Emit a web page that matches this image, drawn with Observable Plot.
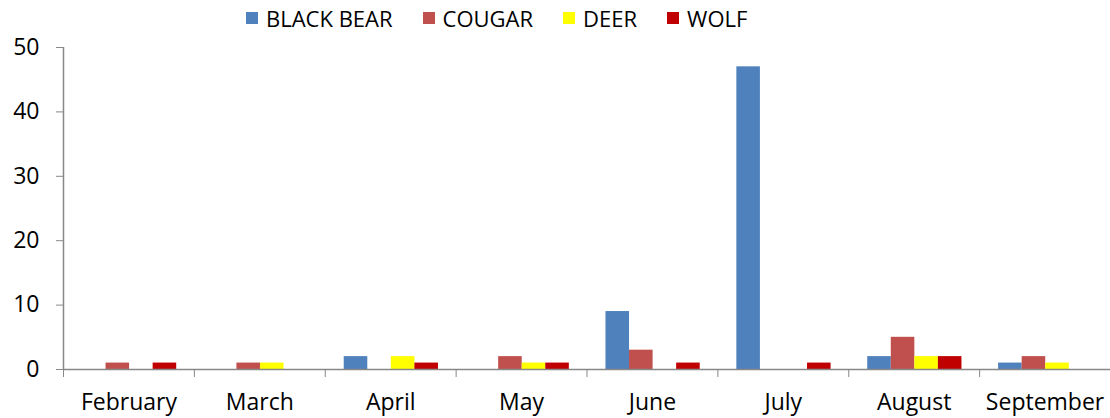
<!DOCTYPE html>
<html>
<head>
<meta charset="utf-8">
<script src="https://cdn.jsdelivr.net/npm/d3@7"></script>
<script src="https://cdn.jsdelivr.net/npm/@observablehq/plot@0.6"></script>
<style>
  html, body { margin: 0; padding: 0; background: #fff; overflow: hidden; }
  #legend { height: 30px; display: flex; align-items: center; padding-left: 246px; padding-top: 6px; box-sizing: border-box;
            font-family: 'Open Sans', sans-serif; font-size: 22px; color: #000; }
  #legend .item { display: flex; align-items: center; margin-right: 30px; }
  #legend .sw { width: 12px; height: 12px; margin-right: 8px; }
</style>
</head>
<body>
<div id="legend"></div>
<div id="chart"></div>
<script>
const months = ["February", "March", "April", "May", "June", "July", "August", "September"];
const species = ["BLACK BEAR", "COUGAR", "DEER", "WOLF"];
const blackBear = [0, 0, 2, 0, 9, 47, 2, 1];
const cougar    = [1, 1, 0, 2, 3, 0, 5, 2];
const deer      = [0, 1, 2, 1, 0, 0, 2, 1];
const wolf      = [1, 0, 1, 1, 1, 1, 2, 0];
const yTicks = [0, 10, 20, 30, 40, 50];
const colors = ["#4F81BD", "#C0504D", "#FFFF00", "#C00000"];

const seriesValues = [blackBear, cougar, deer, wolf];
const rows = [];
months.forEach((m, mi) => {
  species.forEach((s, si) => {
    rows.push({month: m, m: mi, species: s, s: si, value: seriesValues[si][mi]});
  });
});

const barW = 0.18, groupStart = 0.145;

const legend = document.getElementById("legend");
species.forEach((s, i) => {
  const it = document.createElement("div");
  it.className = "item";
  const sw = document.createElement("span");
  sw.className = "sw";
  sw.style.background = colors[i];
  it.appendChild(sw);
  it.appendChild(document.createTextNode(s));
  legend.appendChild(it);
});

const axisGray = "#888888";

const chart = Plot.plot({
  width: 1110,
  height: 388,
  marginTop: 17,
  marginBottom: 49,
  marginLeft: 63,
  marginRight: 0,
  style: {fontFamily: "'Open Sans', sans-serif", fontSize: "23px", color: "#000", background: "#fff", overflow: "visible"},
  x: {domain: [0, months.length]},
  y: {domain: [0, 50]},
  color: {domain: species, range: colors},
  marks: [
    Plot.rectY(rows.filter(d => d.value > 0), {
      x1: d => d.m + groupStart + d.s * barW,
      x2: d => d.m + groupStart + (d.s + 1) * barW,
      y: "value",
      fill: "species"
    }),
    Plot.ruleX([0], {stroke: axisGray, strokeWidth: 1.5}),
    Plot.ruleY([0], {stroke: axisGray, strokeWidth: 1.5}),
    Plot.axisY({ticks: yTicks, tickSize: 7, tickPadding: 17, stroke: axisGray, fill: "#000", label: null}),
    Plot.axisX({ticks: d3.range(0, months.length + 1), tickSize: 8, tickFormat: () => "", stroke: axisGray, label: null}),
    Plot.axisX({ticks: d3.range(months.length).map(i => i + 0.5), tickSize: 0, tickPadding: 24,
                tickFormat: v => months[Math.floor(v)], fill: "#000", label: null})
  ]
});
document.getElementById("chart").appendChild(chart);
</script>
</body>
</html>
